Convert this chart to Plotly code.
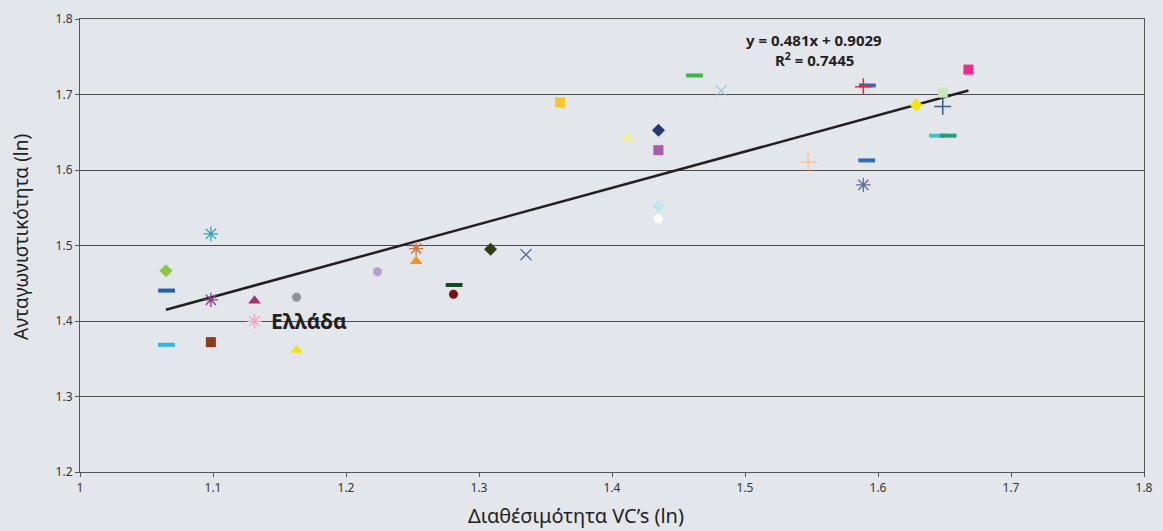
import plotly.graph_objects as go

# ---- data ----
vc_avail = [1.0646, 1.0651, 1.0650, 1.0984, 1.0984, 1.0984, 1.1312, 1.1312, 1.1628, 1.1628,
            1.2237, 1.2527, 1.2527, 1.2813, 1.2808, 1.3087, 1.3353, 1.3609, 1.4118, 1.4349,
            1.4349, 1.4349, 1.4349, 1.4821, 1.4620, 1.5475, 1.5890, 1.5920, 1.5915, 1.5890,
            1.6287, 1.6487, 1.6487, 1.6447, 1.6527, 1.6680]
competitiveness = [1.4665, 1.4403, 1.3685, 1.5155, 1.4280, 1.3720, 1.4267, 1.3996, 1.4315, 1.3615,
                   1.4652, 1.4958, 1.4793, 1.4477, 1.4354, 1.4950, 1.4879, 1.6897, 1.6424, 1.6525,
                   1.6263, 1.5528, 1.5352, 1.7051, 1.7252, 1.6105, 1.7103, 1.7120, 1.6127, 1.5803,
                   1.6862, 1.7024, 1.6840, 1.6455, 1.6455, 1.7330]
marker_kind = ["diamond", "dash", "dash", "star", "asterisk", "square", "triangle", "asterisk", "circle", "triangle",
               "circle", "asterisk", "triangle", "dash", "circle", "diamond", "x", "square", "triangle", "diamond",
               "square", "diamond", "circle", "x", "dash", "plus", "plus", "dash", "dash", "asterisk",
               "diamond", "square", "plus", "dash", "dash", "square"]
marker_color = ["#8DC63F", "#1F5FAD", "#29B6F0", "#2AA7B5", "#8A3C8E", "#8E3A1E", "#9B3B6B", "#F4A0C4", "#8E9496", "#EFE31C",
                "#B49DD0", "#D9703A", "#F7941D", "#0E4A1F", "#7B1113", "#2F3D12", "#4A63B0", "#FFC425", "#F3EF95", "#253A73",
                "#A85BA6", "#C3E7F0", "#FFFFFF", "#9CC8EC", "#3DB54A", "#F9C49A", "#E8282B", "#2A6EBB", "#2A6EBB", "#5B6FA8",
                "#F5E50E", "#C8E6C0", "#3F5A8A", "#3FC3D3", "#1FA07A", "#EC2B8C"]

greece_label = "Ελλάδα"
greece_index = 7

trend_slope = 0.481
trend_intercept = 0.9029
trend_r2 = 0.7445

x_title = "Διαθέσιμότητα VC’s (ln)"
y_title = "Ανταγωνιστικότητα (ln)"

BG = "#E3E6EB"

# ---- styles per marker kind ----
styles = {
    "diamond": dict(symbol="diamond", size=10, lw=0),
    "square": dict(symbol="square", size=10, lw=0),
    "triangle": dict(symbol="triangle-up", size=11, lw=0),
    "circle": dict(symbol="circle", size=9, lw=0),
    "dash": dict(symbol="line-ew-open", size=12, lw=4),
    "asterisk": dict(symbol="asterisk-open", size=12, lw=1.3),
    "star": dict(symbol="asterisk-open", size=12, lw=1.3),
    "x": dict(symbol="x-thin-open", size=11, lw=1.3),
    "plus": dict(symbol="cross-thin-open", size=12, lw=1.5),
}

fig = go.Figure()

# trendline first (below markers)
x0, x1 = min(vc_avail), max(vc_avail)
fig.add_trace(go.Scatter(
    x=[x0, x1], y=[trend_slope * x0 + trend_intercept, trend_slope * x1 + trend_intercept],
    mode="lines", line=dict(color="#231F20", width=2.5), hoverinfo="skip", showlegend=False))

for kind, st in styles.items():
    idx = [i for i, k in enumerate(marker_kind) if k == kind]
    if not idx:
        continue
    cols = [marker_color[i] for i in idx]
    mk = dict(symbol=st["symbol"], size=st["size"], color=cols)
    if st["lw"] > 0:
        mk["line"] = dict(width=st["lw"], color=cols)
    else:
        mk["line"] = dict(width=0)
    fig.add_trace(go.Scatter(
        x=[vc_avail[i] for i in idx], y=[competitiveness[i] for i in idx],
        mode="markers", marker=mk, showlegend=False))

font_family = "Noto Sans, Open Sans, DejaVu Sans, sans-serif"

fig.add_annotation(
    x=vc_avail[greece_index] + 0.011, y=competitiveness[greece_index], xref="x", yref="y",
    text="<b>" + greece_label + "</b>", showarrow=False, xanchor="left", yanchor="middle",
    font=dict(family=font_family, size=21, color="#231F20"))

fig.add_annotation(
    x=1.552, y=1.772, xref="x", yref="y",
    text="<b>y = %.3fx + %.4f</b>" % (trend_slope, trend_intercept),
    showarrow=False, xanchor="center", yanchor="middle",
    font=dict(family=font_family, size=15, color="#231F20"))
fig.add_annotation(
    x=1.552, y=1.747, xref="x", yref="y",
    text="<b>R<sup>2</sup> = %.4f</b>" % trend_r2,
    showarrow=False, xanchor="center", yanchor="middle",
    font=dict(family=font_family, size=15, color="#231F20"))

# axis titles (placed like the reference, slightly off-centre)
fig.add_annotation(
    x=0.466, y=-0.096, xref="paper", yref="paper", text=x_title, showarrow=False,
    xanchor="center", yanchor="middle",
    font=dict(family=font_family, size=20, color="#231F20"))
fig.add_annotation(
    x=-0.055, y=0.52, xref="paper", yref="paper", text=y_title, showarrow=False,
    textangle=-90, xanchor="center", yanchor="middle",
    font=dict(family=font_family, size=19, color="#231F20"))

axis_common = dict(
    showline=True, linecolor="#555555", linewidth=1.2, mirror=True,
    ticks="outside", ticklen=4, tickcolor="#555555", tickwidth=1,
    tickfont=dict(family=font_family, size=12, color="#333333"),
    zeroline=False,
)

fig.update_xaxes(range=[1, 1.8], dtick=0.1, tick0=1, showgrid=False, **axis_common)
fig.update_yaxes(range=[1.2, 1.8], dtick=0.1, tick0=1.2, showgrid=True, gridcolor="#4D4D4D", gridwidth=1.2,
                 **axis_common)

fig.update_layout(
    width=1163, height=531,
    margin=dict(l=80, r=10, t=14, b=59),
    paper_bgcolor=BG, plot_bgcolor=BG,
    showlegend=False,
)

fig.write_html(
    "out.html",
    config={"displayModeBar": False},
    post_script="document.body.style.margin='0';document.body.style.overflow='hidden';"
                "document.body.style.background='%s';" % BG,
)
